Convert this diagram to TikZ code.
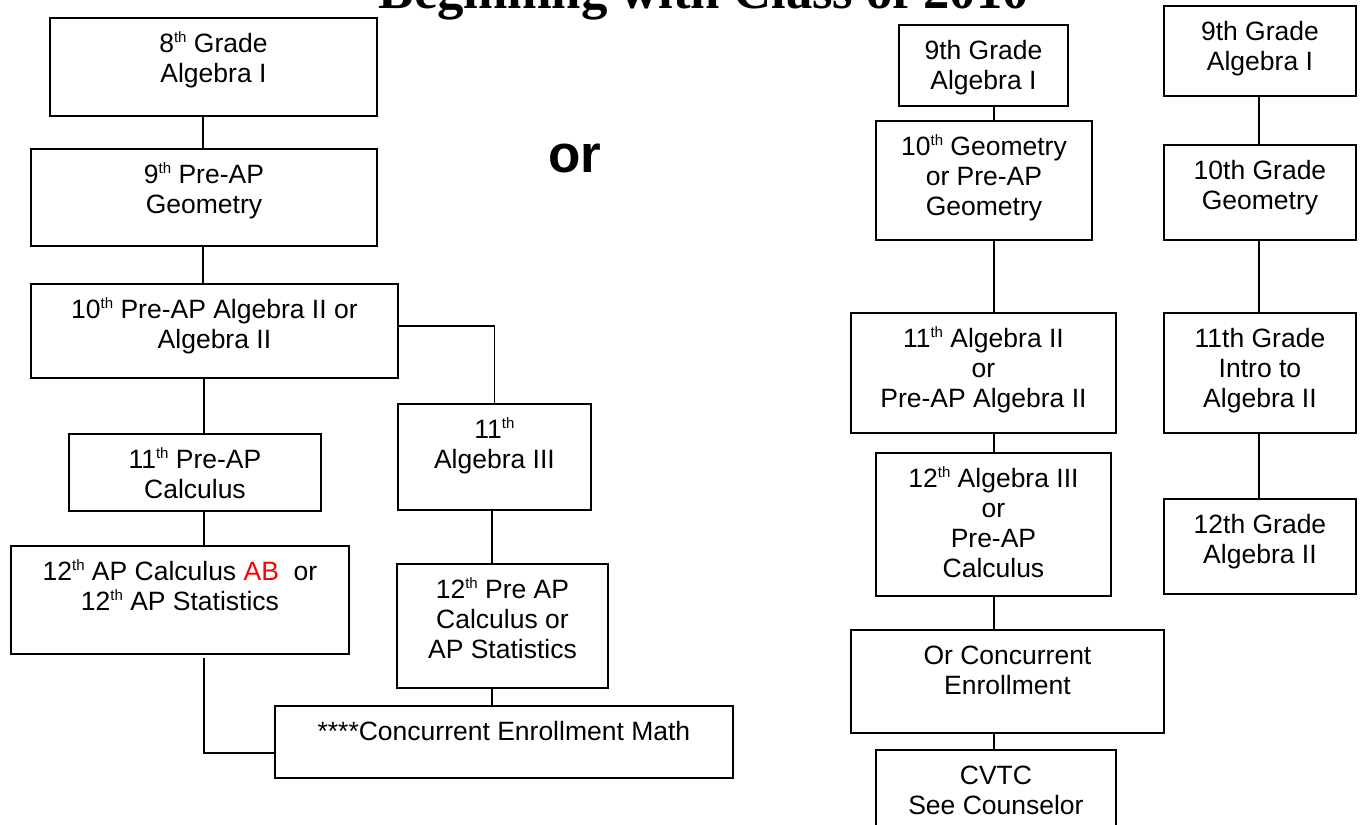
\documentclass[tikz,border=0pt]{standalone}
\usepackage{fontspec}
\setmainfont{Liberation Sans}
\newfontfamily\titlefont{Liberation Serif}
\usepackage{xcolor}
\newcommand{\thsup}{\raisebox{10pt}{\fontsize{15}{15}\selectfont th}}
\newcommand{\bx}[6]{%
  \node[boxst] (#1) at (#2,#3) {\parbox[t][\dimexpr #5pt-#3pt\relax][t]{\dimexpr #4pt-#2pt\relax}{\centering\rule{0pt}{35pt}#6\par}};}
\tikzset{
  boxst/.style={draw, line width=1.9pt, inner sep=0pt, anchor=north west},
  conn/.style={line width=1.9pt}
}
\begin{document}
\begin{tikzpicture}[x=1pt,y=-1pt]
\useasboundingbox (0,0) rectangle (1361,825);
\clip (0,0) rectangle (1361,825);
\fontsize{26.5}{30}\selectfont
% title and "or"
\node[anchor=base, inner sep=0pt, font={\titlefont\bfseries\fontsize{52.7}{60}\selectfont}] (title) at (704,8) {Beginning with Class of 2010};
\node[anchor=base, inner sep=0pt, font={\bfseries\fontsize{53}{60}\selectfont}] (or) at (575,172) {or};
% left column
\bx{A}{49}{17}{376}{115}{8\thsup{} Grade\\Algebra I}
\bx{B}{30}{148}{376}{245}{9\thsup{} Pre-AP\\Geometry}
\bx{C}{30}{283}{397}{377}{10\thsup{} Pre-AP Algebra II or\\Algebra II}
\bx{D1}{68}{433}{320}{510}{11\thsup{} Pre-AP\\Calculus}
\bx{D2}{397}{403}{590}{509}{11\thsup\\Algebra III}
\bx{E1}{10}{545}{348}{653}{12\thsup{} AP Calculus \textcolor{red}{AB}\ \ or\\12\thsup{} AP Statistics}
\bx{E2}{396}{563}{607}{687}{12\thsup{} Pre AP\\Calculus or\\AP Statistics}
\bx{F}{274}{705}{732}{777}{****Concurrent Enrollment Math}
% middle column
\bx{G1}{898}{24}{1067}{105}{9th Grade\\Algebra I}
\bx{G2}{875}{120}{1091}{239}{10\thsup{} Geometry\\or Pre-AP\\Geometry}
\bx{G3}{850}{312}{1115}{432}{11\thsup{} Algebra II\\or\\Pre-AP Algebra II}
\bx{G4}{875}{452}{1110}{595}{12\thsup{} Algebra III\\or\\Pre-AP\\Calculus}
\bx{G5}{850}{629}{1163}{732}{Or Concurrent\\Enrollment}
\bx{G6}{875}{749}{1115}{860}{CVTC\\See Counselor}
% right column
\bx{H1}{1163}{5}{1355}{95}{9th Grade\\Algebra I}
\bx{H2}{1163}{144}{1355}{239}{10th Grade\\Geometry}
\bx{H3}{1163}{312}{1355}{432}{11th Grade\\Intro to\\Algebra II}
\bx{H4}{1163}{498}{1355}{593}{12th Grade\\Algebra II}
% guide coordinates
\coordinate (xl) at (203,0);
\coordinate (xl2) at (204,0);
\coordinate (xe) at (492,0);
\coordinate (xg) at (994,0);
\coordinate (xh) at (1259,0);
\coordinate (cy) at (0,326);
\coordinate (fy) at (0,753);
\coordinate (e1a) at (204,658);
% connectors
\draw[conn] (A.south -| xl) -- (B.north -| xl);
\draw[conn] (B.south -| xl) -- (C.north -| xl);
\draw[conn] (C.south -| xl2) -- (D1.north -| xl2);
\draw[conn] (C.east |- cy) -| (D2.north);
\draw[conn] (D1.south -| xl2) -- (E1.north -| xl2);
\draw[conn] (D2.south -| xe) -- (E2.north -| xe);
\draw[conn] (E2.south -| xe) -- (F.north -| xe);
\draw[conn] (e1a) |- (F.west |- fy);
\draw[conn] (G1.south -| xg) -- (G2.north -| xg);
\draw[conn] (G2.south -| xg) -- (G3.north -| xg);
\draw[conn] (G3.south -| xg) -- (G4.north -| xg);
\draw[conn] (G4.south -| xg) -- (G5.north -| xg);
\draw[conn] (G5.south -| xg) -- (G6.north -| xg);
\draw[conn] (H1.south -| xh) -- (H2.north -| xh);
\draw[conn] (H2.south -| xh) -- (H3.north -| xh);
\draw[conn] (H3.south -| xh) -- (H4.north -| xh);
\end{tikzpicture}
\end{document}
